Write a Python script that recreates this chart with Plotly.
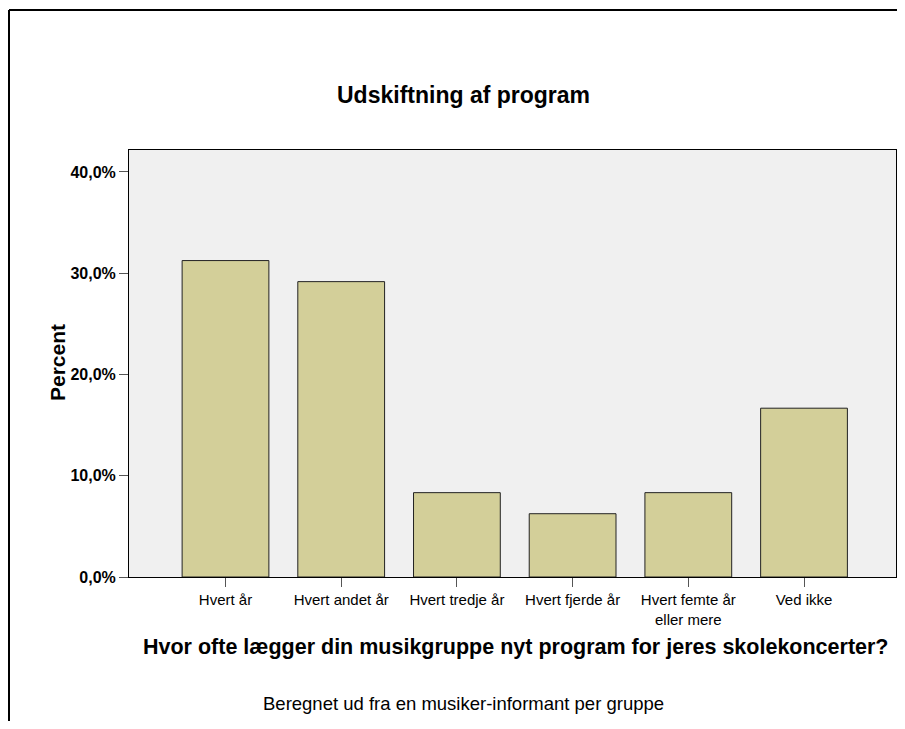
import plotly.graph_objects as go

categories = ["Hvert år", "Hvert andet år", "Hvert tredje år", "Hvert fjerde år",
              "Hvert femte år<br>eller mere", "Ved ikke"]
percent = [31.25, 29.17, 8.33, 6.25, 8.33, 16.67]
ytick_vals = [0, 10, 20, 30, 40]
ytick_text = ["0,0%", "10,0%", "20,0%", "30,0%", "40,0%"]

title_text = "Udskiftning af program"
xaxis_title = "Hvor ofte lægger din musikgruppe nyt program for jeres skolekoncerter?"
yaxis_title = "Percent"
footnote = "Beregnet ud fra en musiker-informant per gruppe"

FONT = "Liberation Sans, Arial, sans-serif"
OFF = 8  # page body margin
W, H = 889, 713
L, R, T, B = 121, 1, 142, 144
pw = W - L - R
ph = H - T - B

def px_x(x):
    return (x - OFF - L) / pw

def px_y(y):
    return (H - B - (y - OFF)) / ph

fig = go.Figure(go.Bar(
    x=categories, y=percent, width=0.75,
    marker=dict(color="#d3cf99", line=dict(color="#222222", width=1)),
    hoverinfo="skip",
))

fig.update_layout(
    width=W, height=H,
    margin=dict(l=L, r=R, t=T, b=B, autoexpand=False),
    paper_bgcolor="white", plot_bgcolor="#f0f0f0",
    font=dict(family=FONT, color="black"),
    showlegend=False,
)
fig.update_xaxes(
    range=[-0.834, 5.795],
    showline=True, linecolor="black", linewidth=1, mirror=True,
    ticks="outside", ticklen=9, tickcolor="#555555", tickwidth=1,
    tickfont=dict(size=15, family=FONT, color="black"),
    showgrid=False, zeroline=False, fixedrange=True,
)
fig.update_yaxes(
    range=[0, 42.17], tickvals=ytick_vals, ticktext=ytick_text,
    showline=True, linecolor="black", linewidth=1, mirror=True,
    ticks="outside", ticklen=9, tickcolor="#555555", tickwidth=1,
    tickfont=dict(size=16, family=FONT, color="black", weight="bold"),
    showgrid=False, zeroline=False, fixedrange=True,
)

annotations = [
    dict(text=title_text, x=px_x(463), y=px_y(95), xref="paper", yref="paper",
         showarrow=False, xanchor="center", yanchor="middle",
         font=dict(size=23, family=FONT, color="black", weight="bold")),
    dict(text=yaxis_title, x=px_x(57), y=px_y(363), xref="paper", yref="paper",
         showarrow=False, xanchor="center", yanchor="middle", textangle=-90,
         font=dict(size=21, family=FONT, color="black", weight="bold")),
    dict(text=xaxis_title, x=px_x(516), y=px_y(647), xref="paper", yref="paper",
         showarrow=False, xanchor="center", yanchor="middle",
         font=dict(size=21.5, family=FONT, color="black", weight="bold")),
    dict(text=footnote, x=px_x(463), y=px_y(703), xref="paper", yref="paper",
         showarrow=False, xanchor="center", yanchor="middle",
         font=dict(size=18.5, family=FONT, color="black")),
]
fig.update_layout(annotations=annotations)

fig.update_layout(shapes=[
    dict(type="line", xref="paper", yref="paper", x0=px_x(9), x1=px_x(920),
         y0=px_y(10), y1=px_y(10), line=dict(color="black", width=2)),
    dict(type="line", xref="paper", yref="paper", x0=px_x(9), x1=px_x(9),
         y0=px_y(10), y1=px_y(740), line=dict(color="black", width=2)),
])

fig.write_html("out.html")
